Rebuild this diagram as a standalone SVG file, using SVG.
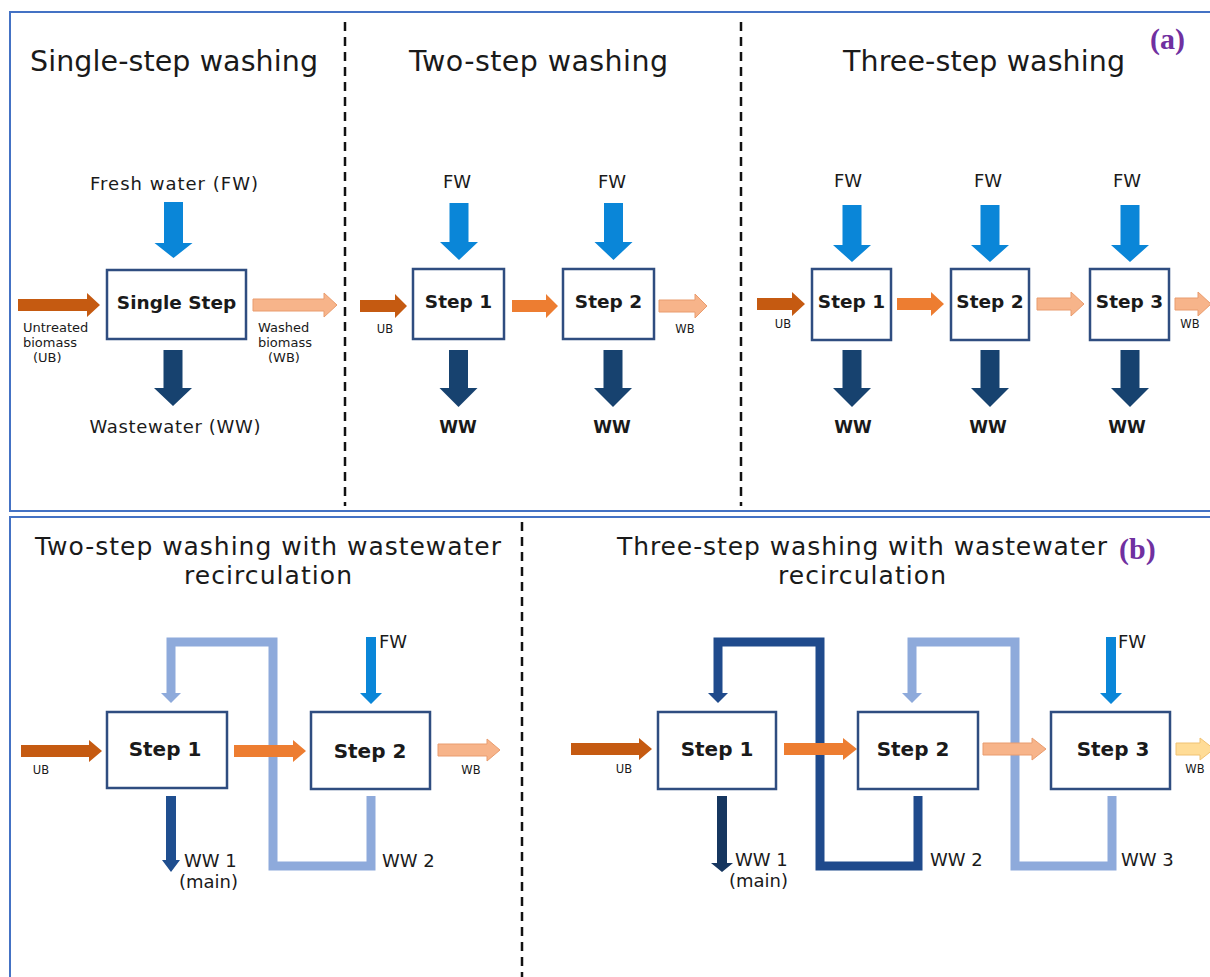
<svg xmlns="http://www.w3.org/2000/svg" width="1210" height="977" viewBox="0 0 1210 977">
  <style>
    .t { font-family: "DejaVu Sans", Verdana, sans-serif; fill: #1a1a1a; }
    .title { font-size: 28.5px; text-anchor: middle; }
    .btitle { font-size: 25px; text-anchor: middle; }
    .lbl { font-size: 18px; text-anchor: middle; }
    .lblb { font-size: 17px; font-weight: bold; text-anchor: middle; }
    .sm { font-size: 13px; }
    .xs { font-size: 11.5px; text-anchor: middle; }
    .rl { font-size: 18px; }
    .box { fill: #ffffff; stroke: #2f4d80; stroke-width: 2.5; }
    .bx { font-weight: bold; font-size: 18.5px; text-anchor: middle; }
    .bx2 { font-weight: bold; font-size: 20px; text-anchor: middle; }
    .fw { fill: #0a86d8; }
    .ww { fill: #17426f; }
    .ww1 { fill: #1f4e8f; }
    .ww1d { fill: #16365f; }
    .ub { fill: #c55a11; }
    .or { fill: #ed7d31; }
    .pe { fill: #f7b48a; stroke: #e99c6e; stroke-width: 1; }
    .ye { fill: #ffdc96; stroke: #f0c273; stroke-width: 1; }
    .div { fill: none; stroke: #111111; stroke-width: 2.5; stroke-dasharray: 9 6; }
    .frame { fill: none; stroke: #4472c4; stroke-width: 2; }
    .loopL { fill: none; stroke: #8eaadb; stroke-width: 9; stroke-linejoin: miter; }
    .loopD { fill: none; stroke: #1f4a8c; stroke-width: 9; stroke-linejoin: miter; }
    .hL { fill: #8eaadb; }
    .hD { fill: #1f4a8c; }
    .tag { font-family: "Liberation Serif", "Times New Roman", serif; font-weight: bold; font-size: 30px; fill: #7030a0; }
  </style>

  <rect width="1210" height="977" fill="#ffffff"/>

  <!-- panel frames and section dividers -->
  <g id="frames">
    <rect class="frame" x="10" y="12" width="1215" height="499"/>
    <rect class="frame" x="10" y="517" width="1215" height="480"/>
    <line class="div" x1="345" y1="22" x2="345" y2="506"/>
    <line class="div" x1="741" y1="22" x2="741" y2="506"/>
    <line class="div" x1="522" y1="522" x2="522" y2="977"/>
  </g>

  <!-- titles -->
  <g id="titles" class="t">
    <text class="title" x="174" y="71" textLength="288">Single-step washing</text>
    <text class="title" x="538.5" y="71" textLength="259">Two-step washing</text>
    <text class="title" x="984" y="71" textLength="282">Three-step washing</text>
    <text class="btitle" x="268" y="555" textLength="466">Two-step washing with wastewater</text>
    <text class="btitle" x="268" y="584" textLength="168">recirculation</text>
    <text class="btitle" x="862" y="555" textLength="490">Three-step washing with wastewater</text>
    <text class="btitle" x="862" y="584" textLength="168">recirculation</text>
    <text class="tag" x="1150" y="49">(a)</text>
    <text class="tag" x="1119" y="559">(b)</text>
  </g>

  <!-- recirculation loops (drawn beneath the biomass arrows) -->
  <g id="connectors">
    <path class="loopL" d="M371,796 V866 H273 V642 H171 V694"/>
    <polygon class="hL" points="161,693 181,693 171,703"/>
    <path class="loopD" d="M918,796 V866 H820 V642 H718 V694"/>
    <polygon class="hD" points="708,693 728,693 718,703"/>
    <path class="loopL" d="M1112,796 V866 H1015 V642 H912 V694"/>
    <polygon class="hL" points="902,693 922,693 912,703"/>

    <!-- single-step flows -->
    <polygon class="fw" points="164,202 183,202 183,243 192.5,243 173.5,258 154.5,243 164,243"/>
    <polygon class="ww" points="163.5,350 182.5,350 182.5,388 192,388 173,406 154,388 163.5,388"/>
    <polygon class="ub" points="18,299 87,299 87,293 100,305 87,317 87,311 18,311"/>
    <polygon class="pe" points="253,299 324,299 324,293 337,305 324,317 324,311 253,311"/>

    <!-- two-step flows -->
    <polygon class="fw" points="449.5,203 468.5,203 468.5,242 478,242 459,260 440,242 449.5,242"/>
    <polygon class="fw" points="604,203 623,203 623,242 632.5,242 613.5,260 594.5,242 604,242"/>
    <polygon class="ww" points="449,350 468,350 468,388 477.5,388 458.5,407 439.5,388 449,388"/>
    <polygon class="ww" points="603.5,350 622.5,350 622.5,388 632,388 613,407 594,388 603.5,388"/>
    <polygon class="ub" points="360,300 395,300 395,294 407,306 395,318 395,312 360,312"/>
    <polygon class="or" points="512,300 546,300 546,294 558,306 546,318 546,312 512,312"/>
    <polygon class="pe" points="659,300 695,300 695,294 707,306 695,318 695,312 659,312"/>

    <!-- three-step flows -->
    <polygon class="fw" points="842.5,205 861.5,205 861.5,245 871,245 852,262 833,245 842.5,245"/>
    <polygon class="fw" points="980.5,205 999.5,205 999.5,245 1009,245 990,262 971,245 980.5,245"/>
    <polygon class="fw" points="1120.5,205 1139.5,205 1139.5,245 1149,245 1130,262 1111,245 1120.5,245"/>
    <polygon class="ww" points="842.5,350 861.5,350 861.5,388 871,388 852,407 833,388 842.5,388"/>
    <polygon class="ww" points="980.5,350 999.5,350 999.5,388 1009,388 990,407 971,388 980.5,388"/>
    <polygon class="ww" points="1120.5,350 1139.5,350 1139.5,388 1149,388 1130,407 1111,388 1120.5,388"/>
    <polygon class="ub" points="757,298 792,298 792,292 805,304 792,316 792,310 757,310"/>
    <polygon class="or" points="897,298 931,298 931,292 944,304 931,316 931,310 897,310"/>
    <polygon class="pe" points="1037,298 1071,298 1071,292 1084,304 1071,316 1071,310 1037,310"/>
    <polygon class="pe" points="1175,298 1198,298 1198,292 1211,304 1198,316 1198,310 1175,310"/>

    <!-- two-step recirculation flows -->
    <polygon class="fw" points="366,637 376,637 376,693 382,693 371,704 360,693 366,693"/>
    <polygon class="ww1" points="166,796 176,796 176,860 180,860 171,872 162,860 166,860"/>
    <polygon class="ub" points="21,745 89,745 89,740 102,751 89,762 89,757 21,757"/>
    <polygon class="or" points="234,745 293,745 293,740 306,751 293,762 293,757 234,757"/>
    <polygon class="pe" points="438,744 487,744 487,739 500,750 487,761 487,756 438,756"/>

    <!-- three-step recirculation flows -->
    <polygon class="fw" points="1106,637 1116,637 1116,693 1122,693 1111,704 1100,693 1106,693"/>
    <polygon class="ww1d" points="717,796 727,796 727,863 733,863 722,872 711,863 717,863"/>
    <polygon class="ub" points="571,743 639,743 639,738 652,749 639,760 639,755 571,755"/>
    <polygon class="or" points="784,743 843,743 843,738 857,749 843,760 843,755 784,755"/>
    <polygon class="pe" points="983,743 1032,743 1032,738 1046,749 1032,760 1032,755 983,755"/>
    <polygon class="ye" points="1176,743 1200,743 1200,738 1214,749 1200,760 1200,755 1176,755"/>
  </g>

  <!-- stream labels -->
  <g id="labels" class="t">
    <text class="lbl" x="174" y="190" textLength="168">Fresh water (FW)</text>
    <text class="lbl" x="175" y="433" textLength="171">Wastewater (WW)</text>
    <text class="sm" x="23" y="332">Untreated</text>
    <text class="sm" x="23" y="347">biomass</text>
    <text class="sm" x="33" y="362">(UB)</text>
    <text class="sm" x="258" y="332">Washed</text>
    <text class="sm" x="258" y="347">biomass</text>
    <text class="sm" x="268" y="362">(WB)</text>

    <text class="lbl" x="457" y="188">FW</text>
    <text class="lbl" x="612" y="188">FW</text>
    <text class="lblb" x="458" y="433">WW</text>
    <text class="lblb" x="612" y="433">WW</text>
    <text class="xs" x="385" y="333">UB</text>
    <text class="xs" x="685" y="333">WB</text>

    <text class="lbl" x="848" y="187">FW</text>
    <text class="lbl" x="988" y="187">FW</text>
    <text class="lbl" x="1127" y="187">FW</text>
    <text class="lblb" x="853" y="433">WW</text>
    <text class="lblb" x="988" y="433">WW</text>
    <text class="lblb" x="1127" y="433">WW</text>
    <text class="xs" x="783" y="328">UB</text>
    <text class="xs" x="1190" y="328">WB</text>

    <text class="rl" x="379" y="648">FW</text>
    <text class="rl" x="184" y="867">WW 1</text>
    <text class="rl" x="179" y="888">(main)</text>
    <text class="rl" x="382" y="867">WW 2</text>
    <text class="xs" x="41" y="774">UB</text>
    <text class="xs" x="471" y="774">WB</text>

    <text class="rl" x="1118" y="648">FW</text>
    <text class="rl" x="735" y="866">WW 1</text>
    <text class="rl" x="729" y="887">(main)</text>
    <text class="rl" x="930" y="866">WW 2</text>
    <text class="rl" x="1121" y="866">WW 3</text>
    <text class="xs" x="624" y="773">UB</text>
    <text class="xs" x="1195" y="773">WB</text>
  </g>

  <!-- process steps -->
  <g id="single-step" class="t">
    <rect class="box" x="107" y="270" width="139" height="69"/>
    <text class="bx" x="176.5" y="309">Single Step</text>
  </g>
  <g id="two-step-1" class="t">
    <rect class="box" x="413" y="269" width="91" height="70"/>
    <text class="bx" x="458.5" y="308">Step 1</text>
  </g>
  <g id="two-step-2" class="t">
    <rect class="box" x="563" y="269" width="91" height="70"/>
    <text class="bx" x="608.5" y="308">Step 2</text>
  </g>
  <g id="three-step-1" class="t">
    <rect class="box" x="812" y="269" width="79" height="71"/>
    <text class="bx" x="851.5" y="308">Step 1</text>
  </g>
  <g id="three-step-2" class="t">
    <rect class="box" x="951" y="269" width="78" height="71"/>
    <text class="bx" x="990" y="308">Step 2</text>
  </g>
  <g id="three-step-3" class="t">
    <rect class="box" x="1090" y="269" width="79" height="71"/>
    <text class="bx" x="1129.5" y="308">Step 3</text>
  </g>

  <g id="recirc2-step-1" class="t">
    <rect class="box" x="107" y="712" width="120" height="76"/>
    <text class="bx2" x="165" y="756">Step 1</text>
  </g>
  <g id="recirc2-step-2" class="t">
    <rect class="box" x="311" y="712" width="119" height="77"/>
    <text class="bx2" x="370" y="758">Step 2</text>
  </g>
  <g id="recirc3-step-1" class="t">
    <rect class="box" x="658" y="712" width="118" height="77"/>
    <text class="bx2" x="717" y="756">Step 1</text>
  </g>
  <g id="recirc3-step-2" class="t">
    <rect class="box" x="858" y="712" width="120" height="77"/>
    <text class="bx2" x="913" y="756">Step 2</text>
  </g>
  <g id="recirc3-step-3" class="t">
    <rect class="box" x="1051" y="712" width="119" height="77"/>
    <text class="bx2" x="1113" y="756">Step 3</text>
  </g>
</svg>
